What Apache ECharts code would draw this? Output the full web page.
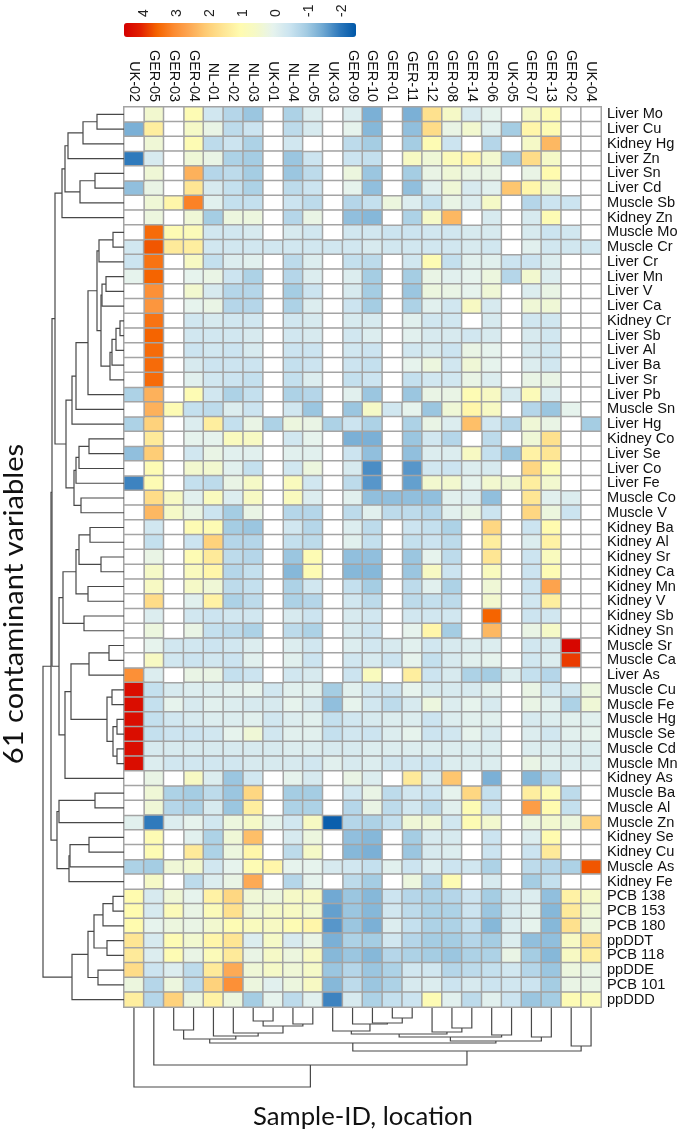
<!DOCTYPE html>
<html><head><meta charset="utf-8">
<style>html,body{margin:0;padding:0;background:#fff}#c{width:685px;height:1134px}</style>
<script src="https://cdn.jsdelivr.net/npm/echarts@6/dist/echarts.min.js"></script>
</head><body><div id="c"></div>
<script>
const _ = null;
const columns = ['UK-02','GER-05','GER-03','GER-04','NL-01','NL-02','NL-03','UK-01','NL-04','NL-05','UK-03','GER-09','GER-10','GER-01','GER-11','GER-12','GER-08','GER-14','GER-06','UK-05','GER-07','GER-13','GER-02','UK-04'];
const rowNames = ['Liver Mo','Liver Cu','Kidney Hg','Liver Zn','Liver Sn','Liver Cd','Muscle Sb','Kidney Zn','Muscle Mo','Muscle Cr','Liver Cr','Liver Mn','Liver V','Liver Ca','Kidney Cr','Liver Sb','Liver Al','Liver Ba','Liver Sr','Liver Pb','Muscle Sn','Liver Hg','Kidney Co','Liver Se','Liver Co','Liver Fe','Muscle Co','Muscle V','Kidney Ba','Kidney Al','Kidney Sr','Kidney Ca','Kidney Mn','Kidney V','Kidney Sb','Kidney Sn','Muscle Sr','Muscle Ca','Liver As','Muscle Cu','Muscle Fe','Muscle Hg','Muscle Se','Muscle Cd','Muscle Mn','Kidney As','Muscle Ba','Muscle Al','Muscle Zn','Kidney Se','Kidney Cu','Muscle As','Kidney Fe','PCB 138','PCB 153','PCB 180','ppDDT','PCB 118','ppDDE','PCB 101','ppDDD'];
const values = [
[_,.5,_,1,-.3,-.7,-1,_,-.8,-.1,_,-.1,-1.3,_,-1.3,1.7,.6,-.2,.1,_,.6,1,_,_],
[-1.3,1.4,_,.6,.2,-.6,-.4,_,-.6,-.2,_,.1,-1.2,_,-1.1,1.8,.2,.5,0,-.9,1.2,1,_,_],
[_,.4,_,1,-.6,-.4,-.8,_,-.3,_,_,-.6,-.9,_,-.9,1,-.4,_,-.7,_,.6,2.4,_,_],
[-1.9,-.2,_,.4,.2,-.8,-.9,_,-1,-.4,_,-.4,-.5,_,.7,.4,.9,1.2,.5,-.9,1.8,.6,_,_],
[_,.4,_,2.5,-.7,-.6,-.9,_,-1,-.6,_,.3,-1,_,-.9,.2,.4,.2,.2,_,.2,1.1,_,_],
[-1.1,.2,_,1.6,-.2,-.5,-.8,_,-.6,-.4,_,.1,-1.1,_,-1.1,0,.4,-.2,0,2.2,1.2,.5,_,_],
[_,.4,1.2,3.2,0,-.5,-.5,_,-.4,-.6,_,-.7,-.5,.3,-.1,-.5,.2,-.1,.6,_,-.7,-.4,-.4,_],
[_,.3,_,.4,-.9,.3,.3,_,-.7,.2,_,-1.1,-1.2,_,-.8,.6,2.4,_,-.2,_,-.2,1,_,_],
[_,3.5,1,.9,-.3,-.3,-.2,_,-.2,-.3,_,-.3,-.3,-.4,-.4,-.3,-.3,-.2,-.2,_,-.2,-.4,-.3,_],
[-.3,3.7,1.5,1.4,-.3,-.3,-.3,-.3,-.3,-.3,-.3,-.3,-.2,-.3,-.3,-.3,-.3,-.2,-.3,_,0,-.3,-.3,-.3],
[-.4,3.4,_,.7,-.5,-.1,0,_,-.6,-.1,_,-.5,-.6,_,-.3,1,-.5,0,0,-.4,-.4,-.1,_,_],
[.1,3.6,_,.1,.2,-.4,-.8,_,-.7,-.1,_,-.1,-.9,_,-.9,.2,0,.1,.3,-.7,.5,-.1,_,_],
[_,3,_,.5,-.2,-.7,-.7,_,-.9,-.4,_,-.2,-.9,_,-1,.3,.2,.1,.4,_,-.1,.2,_,_],
[_,2.9,_,.1,.2,-.7,-.7,_,-.8,-.1,_,-.4,-.9,_,-.8,0,-.3,.7,-.2,_,.4,.4,_,_],
[_,3.4,_,-.3,-.2,-.3,-.3,_,-.3,-.2,_,-.2,-.2,_,0,-.3,-.3,_,-.2,_,-.3,-.3,_,_],
[_,3.6,_,-.3,-.3,-.3,-.2,_,-.3,-.2,_,-.3,-.1,_,0,-.2,-.2,-.3,-.2,_,-.2,-.3,_,_],
[_,3.5,_,-.4,-.3,-.4,-.2,_,-.4,-.4,_,-.3,-.4,_,-.3,-.2,-.4,.2,.1,_,-.2,-.3,_,_],
[_,3.5,_,-.2,-.4,-.4,-.4,_,-.5,-.4,_,-.4,-.5,_,.1,.3,-.3,.4,.1,_,-.1,-.3,_,_],
[_,3.5,_,0,-.3,-.4,-.5,_,-.5,-.1,_,-.5,-.4,_,-.5,-.3,-.3,.2,-.1,_,.2,.2,_,_],
[-.8,2.5,_,1,-.3,-.8,-.5,_,-.8,-.7,_,0,-1,_,-1,.2,.2,1,.7,-.2,.9,-.1,_,_],
[_,2.5,1,-.5,-.6,-.1,-.4,_,-.3,-1,_,-1,.6,-.3,.1,-1,.4,1.2,.7,_,-.7,-1,.1,_],
[-.8,2,_,-.1,1.4,-.5,.2,-.8,.3,.2,-.8,-.4,-.8,_,-.8,.2,-.1,2.3,-.3,-.7,.4,.2,_,-.9],
[_,1.5,_,.1,.1,.8,.7,_,-.3,.1,_,-1.3,-1.3,_,-1,-.3,-.7,_,-.6,_,.4,1.7,_,_],
[-1.1,2.1,_,-.3,.2,0,0,_,0,0,_,-.4,-1.1,_,-1.1,-.1,-.1,.7,-.5,-1,1.3,1.6,_,_],
[_,1,_,.5,.5,0,-.5,_,-.3,.3,_,-.2,-1.7,_,-1.6,-.3,-.4,-.1,-.2,_,1.9,1,_,_],
[-1.8,1,_,-.5,-.6,.2,.6,_,.8,-.3,_,-.6,-1.6,_,-1.5,.5,.5,.1,.5,.4,1.4,.5,_,_],
[_,1.8,.7,0,.8,-.1,.7,_,.8,-.1,_,0,-1.1,-1.1,-1.1,-1.1,0,-.1,-1.1,_,1.6,0,-.1,_],
[_,2.4,.6,.2,-.4,-.9,.2,_,-.7,-.7,_,-.6,0,-.6,-.6,-.7,0,.2,-.4,_,1.9,.3,-.4,_],
[_,-.3,_,1,1,-.9,-1,_,-.3,-.7,_,-.1,-.6,_,-.4,-.5,-.8,_,1.9,_,-.4,1.1,_,_],
[_,-.5,_,-.4,2,-.7,-.7,_,-.5,-.6,_,0,-.5,_,-.5,-.4,-.6,_,1.4,_,-.1,1.3,_,_],
[_,.2,_,1,1.5,-.6,-.7,_,-1,1,_,-1.1,-1.1,_,-1,.1,-.6,_,1.6,_,-.4,.8,_,_],
[_,.6,_,.8,1.2,-.7,-.5,_,-1.2,1,_,-1.2,-1.2,_,-1,.7,-.4,_,.8,_,-.4,1,_,_],
[_,.7,_,.6,.4,-.6,-.5,_,-.8,-.3,_,-.5,-.9,_,-.6,0,-.8,_,.4,_,-.4,2.7,_,_],
[_,1.8,_,0,1.3,-.8,-.6,_,-.8,-.7,_,-.3,-.6,_,-.6,-.5,-.6,_,.5,_,-.3,1.4,_,_],
[_,-.1,_,-.3,-.4,-.3,-.3,_,-.2,-.4,_,-.2,-.3,_,-.3,-.3,-.3,_,3.6,_,-.4,-.3,_,_],
[_,.3,_,.2,-.5,-.6,-.8,_,-.6,-.8,_,-.2,-.4,_,.1,1.2,-.9,_,2.4,_,.2,.6,_,_],
[_,.1,-.3,-.3,-.4,-.3,-.1,_,-.1,-.3,_,-.1,-.3,-.2,0,-.3,-.2,-.1,-.1,_,-.3,-.2,4.5,_],
[_,.7,-.3,-.4,-.3,-.4,0,_,0,-.4,_,-.3,-.2,-.4,.1,-.5,-.2,0,.1,_,-.3,-.1,3.9,_],
[3,-.1,_,.2,.2,-.5,-.4,_,-.3,-.2,_,-.4,.8,_,1.4,-.4,-.2,-.8,-.9,-.1,-.5,-.7,_,_],
[4.4,-.5,-.2,-.1,-.1,0,.1,-.3,0,0,-.9,0,-.3,-.4,.1,-.2,-.2,-.2,0,_,.2,-.3,-.3,.3],
[4.4,-.5,.1,-.2,0,-.1,-.2,-.2,.1,-.2,-1.1,.1,-.3,-.6,-.2,.3,-.1,.1,-.2,_,.2,0,-.8,.4],
[4.4,-.5,-.3,-.2,-.1,-.1,0,-.3,-.1,0,-.5,-.3,-.2,-.1,-.1,-.4,-.1,0,0,_,-.2,-.1,0,0],
[4.4,-.5,-.4,-.4,-.3,.1,.4,-.3,0,0,-.5,-.3,-.4,-.1,.1,-.4,-.3,.1,-.2,_,-.1,-.3,0,.1],
[4.4,-.2,-.2,-.2,-.2,-.2,-.2,-.2,-.1,-.1,-.2,-.2,-.1,-.1,-.1,-.1,-.1,-.1,-.1,_,-.1,-.1,-.1,-.1],
[4.4,-.1,-.3,-.3,-.3,-.3,-.2,-.2,-.2,-.3,0,-.2,-.1,-.3,-.3,-.4,-.1,-.1,-.1,_,.2,0,-.1,-.1],
[_,.2,_,.7,-.1,-1,-.3,_,.1,-.2,_,.2,-.1,_,1.5,-.1,2.2,_,-1.3,_,-1.2,-.7,_,_],
[_,.4,-.8,-.9,-.6,-1,1.9,_,-.9,-.9,_,-.3,.2,-.6,-.3,-.4,.1,1.9,-.5,_,1.4,1,-.6,_],
[_,.4,-.7,-.8,-.2,-1,1.4,_,-.8,-.8,_,-.7,.2,-.6,-.3,-.6,0,1,-.4,_,2.8,1.1,-.5,_],
[0,-1.9,-.1,.1,-.3,.3,.6,.1,-.3,.7,-2.3,-.7,-.8,-.5,.4,.4,-.3,1,.5,_,.3,.5,.3,2],
[_,1,_,0,-.8,.4,2.3,_,-.2,.3,_,-1.1,-1.2,_,-.9,-.2,-.2,_,-.4,_,-.1,1.1,_,_],
[_,1,_,1.5,-.8,.3,1.2,_,-.6,.6,_,-1.2,-1.3,_,-1,-.2,-.1,_,-.4,_,-.4,1.5,_,_],
[-.8,-.9,.4,.5,-.3,.1,1,1.2,.1,.1,-.2,-.3,-.5,0,-.4,-.1,-.4,-.3,-.8,_,-.6,-.7,-.8,3.7],
[_,.6,_,-.6,-.1,.2,2.6,_,-.7,.1,_,-.6,-.9,_,.3,-.7,1,_,-.2,_,-.9,-.5,_,_],
[1.1,-.2,.4,.1,1.3,1.9,.4,.3,.6,.7,-1.4,-1,-1.2,-.4,-.7,-.8,-.7,-.4,-.9,-.2,-.1,-1.1,1.3,.6],
[1.1,-.2,.9,.2,.9,1.7,.4,.6,.7,.5,-1.5,-1,-1.2,-.3,-.6,-.8,-.8,-.4,-1,-.2,0,-1.2,1.5,.4],
[1.1,.1,.3,.2,.5,1,.8,.7,1,1.2,-1.6,-1,-1.3,-.1,-.5,-.8,-.8,-.5,-1.2,-.1,.1,-1.2,1.7,.3],
[1.6,-.2,1,.5,1.2,1.6,-.1,.6,-.2,.2,-1.3,-.8,-.9,-.3,-.7,-.9,-.9,-.7,-.9,-.1,-1.1,-1.1,.7,1.7],
[1.5,-.1,1,.2,.9,1.5,.2,.6,.3,.7,-1.2,-1,-1.2,-.7,-.8,-.9,-1,-.8,-.8,.2,-.9,-1.2,.7,1.4],
[1.8,-.4,-.1,-.6,1.5,2.6,.4,.6,.4,.6,-1,-.7,-1,-.8,-.3,-.3,-.7,-.6,-.5,-.3,-.7,-1,.3,.2],
[.3,-.7,.3,-.6,2,3,.3,0,.3,.7,-1.2,-.6,-1,-.8,-.2,-.1,-.4,-.2,-.4,-.3,-.4,-.9,.2,.2],
[1.4,-.7,2,.3,1.3,.3,-.9,.1,-.6,0,-1.8,-.2,-.8,-.5,-.4,1,0,-.6,0,-.4,-1,-.9,1,.9]
];
// Dendrograms: [mergeHeight, left, right]; a plain number is a 1-based leaf.
const rowsTop = [62,[59,[56,[41,[27,1,2],3],4],[44,[29,5,6],7]],8];
const rowsMid = [52,[48,[36,[27,[25,[11,9,10],11],[23,[22,[18,12,13],14],[14,[12,[8,[4,15,16],17],18],19]]],20],21],22];
const rowsLow = [50,[48,[45,[35,23,24],25],26],[43,27,28]];
const rowsKidney = [61,[48,[45,[34,29,30],[23,31,32]],[36,33,34]],[40,35,36]];
const rowsMuscle = [59,[53,[35,[15,37,38],39],[17,[12,40,41],[11,[7,42,43],[7,44,45]]]],46];
const rowsMixed = [67,[65,[29,47,48],49],[55,[54,[35,50,51],52],53]];
const rowsPcb = [52,[36,[30,[21,[11,54,55],56],[17,57,58]],[26,59,60]],61];
const rowTree = [81,[73,[72,[69,rowsTop,[58,rowsMid,rowsLow]],[65,rowsKidney,rowsMuscle]],rowsMixed],rowsPcb];
const colsLeft = [31,[22,3,4],[28,5,[25,6,[18,[13,7,8],[16,9,10]]]]];
const colsMid = [29,[26,[23,11,[16,12,[15,13,[10,14,15]]]],[24,16,[20,17,18]]],[27,19,20]];
const colTree = [79,1,[57,2,[43,[35,colsLeft,[33,colsMid,[29,21,22]]],[38,23,24]]]];
const scaleTicks = [-2,-1,0,1,2,3,4];
const scaleMin = -2.42, scaleMax = 4.6;
const scaleColors = ['#0057a8','#2d78bb','#6fa8d2','#a4cce3','#cbe4f0','#e6f3ee','#f5f9c8','#fffbb0','#fee695','#fecd76','#fdaa55','#fc8a30','#f56400','#e22000','#d40000'];
const labelFont = '"Liberation Sans", Arial, sans-serif';

function flatten(node, out){
  if (typeof node === 'number') return {pos: node - 0.5, h: 0};
  const a = flatten(node[1], out), b = flatten(node[2], out);
  out.push([a.pos, a.h, node[0], b.pos, b.h]);
  return {pos: (a.pos + b.pos) / 2, h: node[0]};
}
const rowLinks = [], colLinks = [];
flatten(rowTree, rowLinks); flatten(colTree, colLinks);

const cells = [], blanks = [];
values.forEach((row, r) => row.forEach((v, c) => {
  if (v === null) blanks.push([c, r, 0]); else cells.push([c, r, v]);
}));
const lineStyle = {stroke: '#484848', fill: null, lineWidth: 1.2};
const cellBorder = {borderColor: '#a4a4a4', borderWidth: 1.5};
const off = {show: false};

const chart = echarts.init(document.getElementById('c'), null, {renderer: 'canvas'});
chart.setOption({
  animation: false,
  backgroundColor: '#fff',
  textStyle: {fontFamily: labelFont},
  grid: [
    {left: 124, top: 107, width: 477, height: 900},
    {left: 0, top: 107, width: 124, height: 900},
    {left: 124, top: 1008, width: 477, height: 100},
    {left: 144, top: 23, width: 198, height: 14}
  ],
  xAxis: [
    {gridIndex: 0, type: 'category', data: columns, position: 'top', axisLine: off, axisTick: off, splitLine: off,
      axisLabel: {rotate: 90, interval: 0, margin: 5, fontSize: 14.4, fontFamily: labelFont, color: '#111', hideOverlap: false}},
    {gridIndex: 1, type: 'value', min: 0, max: 124, inverse: true, show: false},
    {gridIndex: 2, type: 'value', min: 0, max: 24, show: false},
    {gridIndex: 3, type: 'value', min: -2, max: 4, interval: 1, inverse: true, position: 'top',
      axisLine: off, axisTick: off, splitLine: off,
      axisLabel: {rotate: 90, margin: 6, fontSize: 14, fontFamily: labelFont, color: '#222', customValues: scaleTicks}}
  ],
  yAxis: [
    {gridIndex: 0, type: 'category', data: rowNames, inverse: true, position: 'right', axisLine: off, axisTick: off, splitLine: off,
      axisLabel: {interval: 0, margin: 6, fontSize: 14.6, fontFamily: labelFont, color: '#111', hideOverlap: false}},
    {gridIndex: 1, type: 'value', min: 0, max: 61, inverse: true, show: false},
    {gridIndex: 2, type: 'value', min: 0, max: 100, inverse: true, show: false},
    {gridIndex: 3, type: 'value', min: 0, max: 1, show: false}
  ],
  visualMap: {
    type: 'continuous', seriesIndex: 0, min: scaleMin, max: scaleMax, inverse: true, orient: 'horizontal',
    left: 124, top: 23, itemWidth: 14, itemHeight: 232, calculable: false, text: null, showLabel: false,
    padding: 0, inRange: {color: scaleColors}
  },
  series: [
    {type: 'heatmap', xAxisIndex: 0, yAxisIndex: 0, data: cells, itemStyle: cellBorder, emphasis: {disabled: true}, silent: true, progressive: 0},
    {type: 'heatmap', xAxisIndex: 0, yAxisIndex: 0, data: blanks, itemStyle: Object.assign({color: '#fff'}, cellBorder), emphasis: {disabled: true}, silent: true, progressive: 0},
    {type: 'custom', xAxisIndex: 1, yAxisIndex: 1, data: rowLinks, silent: true, clip: false,
      encode: {x: [1, 2, 4], y: [0, 3]},
      renderItem: (p, api) => {
        const pts = [[api.value(1), api.value(0)], [api.value(2), api.value(0)], [api.value(2), api.value(3)], [api.value(4), api.value(3)]].map(q => api.coord(q));
        return {type: 'polyline', shape: {points: pts}, style: lineStyle};
      }},
    {type: 'custom', xAxisIndex: 2, yAxisIndex: 2, data: colLinks, silent: true, clip: false,
      encode: {x: [0, 3], y: [1, 2, 4]},
      renderItem: (p, api) => {
        const pts = [[api.value(0), api.value(1)], [api.value(0), api.value(2)], [api.value(3), api.value(2)], [api.value(3), api.value(4)]].map(q => api.coord(q));
        return {type: 'polyline', shape: {points: pts}, style: lineStyle};
      }},
    {type: 'scatter', xAxisIndex: 3, yAxisIndex: 3, data: [], silent: true}
  ],
  graphic: [
    {type: 'text', x: 15, y: 604, rotation: Math.PI / 2, scaleX: 1.12, style: {text: '61 contaminant variables', font: '26px Lato', fill: '#111', align: 'center', verticalAlign: 'middle'}},
    {type: 'text', x: 363, y: 1117, style: {text: 'Sample-ID, location', font: '25.7px Lato', fill: '#111', align: 'center', verticalAlign: 'middle'}}
  ]
});
</script></body></html>
